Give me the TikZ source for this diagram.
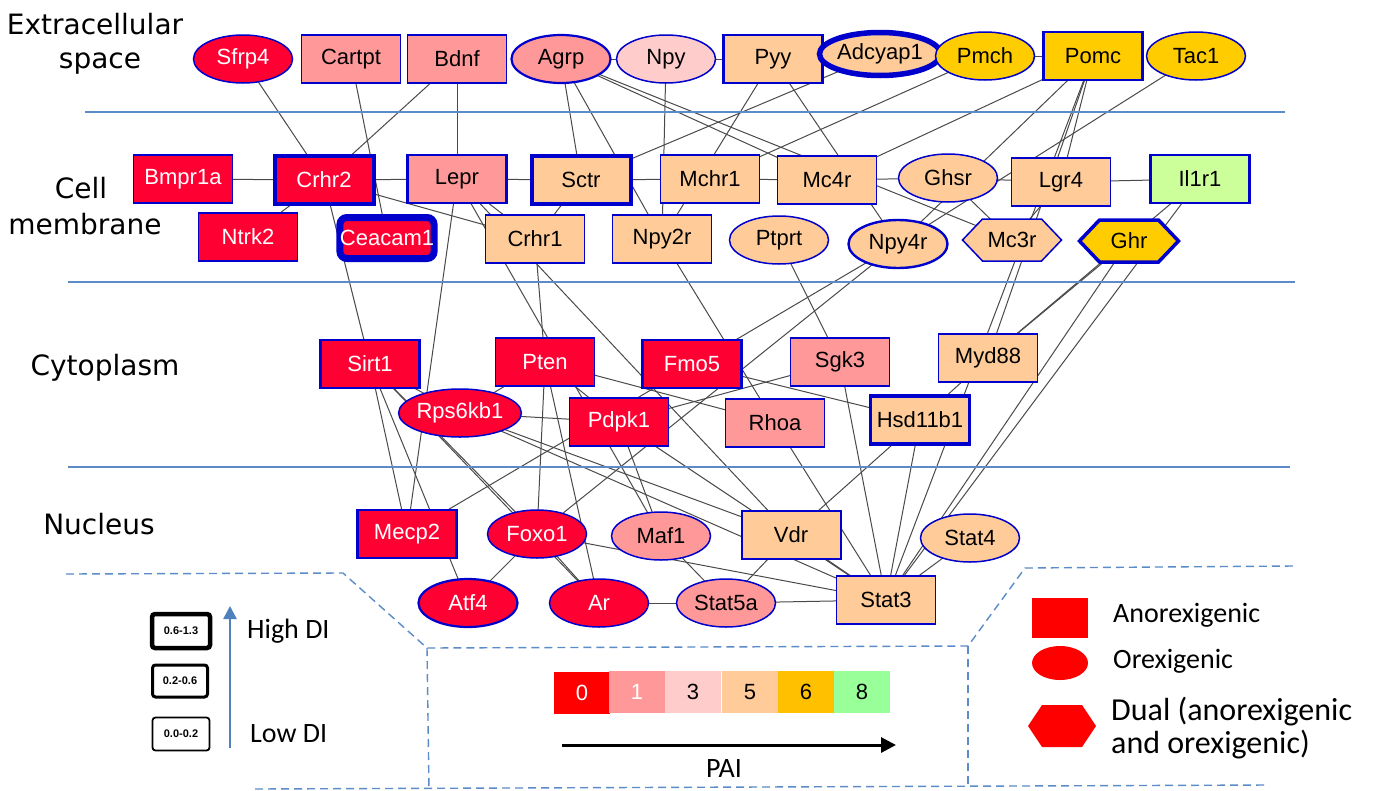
\documentclass[tikz,border=0pt]{standalone}
\usepackage{fontspec}
\setmainfont{Liberation Sans}
\newfontfamily\calfont{Carlito}
\newfontfamily\djfont{DejaVu Sans}
\usetikzlibrary{shapes.geometric,arrows.meta}
\pgfdeclarelayer{bg}
\pgfsetlayers{bg,main}
\definecolor{cR}{HTML}{FF0033}
\definecolor{cP}{HTML}{FF9999}
\definecolor{cL}{HTML}{FFCCCC}
\definecolor{cO}{HTML}{FFCC99}
\definecolor{cG}{HTML}{FFCC00}
\definecolor{cV}{HTML}{CCFF99}
\definecolor{bd}{HTML}{0000CC}
\definecolor{sepc}{HTML}{5B8BC9}
\definecolor{edgec}{HTML}{4A4A4A}
\definecolor{arrc}{HTML}{4F81BD}
\definecolor{lR}{HTML}{FF0000}
\definecolor{l6}{HTML}{FFC000}
\definecolor{l8}{HTML}{99FF99}
\newcommand\HexAt[5]{\filldraw[draw=#5, fill=#3, line width=#4] (#1-49.5,#2) -- (#1-29.5,#2-21) -- (#1+29.5,#2-21) -- (#1+49.5,#2) -- (#1+29.5,#2+21) -- (#1-29.5,#2+21) -- cycle;}
\tikzset{
  gene/.style={draw=bd, line width=1.5pt, minimum width=99pt, minimum height=48pt, inner sep=0pt, font=\fontsize{22}{24}\selectfont},
  box/.style={gene, rectangle},
  oval/.style={gene, ellipse},
  hexlabel/.style={rectangle, minimum width=99pt, minimum height=42pt, inner sep=0pt, font=\fontsize{22}{24}\selectfont},
  wt/.style={text=white},
  medb/.style={line width=2.8pt},
  thkb/.style={line width=4pt},
  edgeline/.style={draw=edgec, line width=1pt},
  sepline/.style={draw=sepc, line width=1.3pt},
  dashline/.style={draw=sepc, line width=1.4pt, dash pattern=on 8pt off 5pt},
  lbl/.style={font=\djfont\fontsize{28}{30}\selectfont, inner sep=0pt, anchor=base},
  leg/.style={font=\calfont\fontsize{28}{30}\selectfont, inner sep=0pt, anchor=west},
  legbig/.style={font=\calfont\fontsize{32}{34}\selectfont, inner sep=0pt, anchor=west},
  dibox/.style={draw=black, rounded corners=3pt, fill=white, font=\bfseries\fontsize{11}{12}\selectfont, inner sep=0pt},
  scalebox/.style={minimum width=56pt, minimum height=42pt, inner sep=0pt, font=\fontsize{22}{24}\selectfont}
}
\begin{document}
\begin{tikzpicture}[x=1pt,y=-1pt]
\useasboundingbox (0,0) rectangle (1373,790);
\begin{pgfonlayer}{bg}
\fill[white] (0,0) rectangle (1373,790);
\end{pgfonlayer}

% layer separators
\draw[sepline] (85,112) -- (1285,112);
\draw[sepline] (68,282) -- (1295,282);
\draw[sepline] (68,467) -- (1290,467);

% layer labels
\node[lbl] (lExt) at (95,34) {Extracellular};
\node[lbl] (lSpace) at (100,68) {space};
\node[lbl] (lCell) at (81,198) {Cell};
\node[lbl] (lMem) at (85,234) {membrane};
\node[lbl] (lCyto) at (105,375) {Cytoplasm};
\node[lbl] (lNuc) at (99,534) {Nucleus};

% extracellular
\node[oval,fill=cR,wt] (sfrp4) at (243,59) {Sfrp4};
\node[box,fill=cP] (cartpt) at (351,59) {Cartpt};
\node[box,fill=cP] (bdnf) at (457,59) {Bdnf};
\node[oval,fill=cP,line width=2.2pt] (agrp) at (561,59) {Agrp};
\node[oval,fill=cL] (npy) at (666,59) {Npy};
\node[box,fill=cO,medb] (pyy) at (773,59) {Pyy};
\node[oval,fill=cO,line width=5.5pt,minimum width=92pt,minimum height=43pt] (adcyap1) at (880,54) {Adcyap1};
\node[oval,fill=cG] (pmch) at (985,56) {Pmch};
\node[box,fill=cG,medb] (pomc) at (1093,56) {Pomc};
\node[oval,fill=cG] (tac1) at (1196,56) {Tac1};

% cell membrane
\node[box,fill=cR,wt] (bmpr1a) at (183,179) {Bmpr1a};
\node[box,fill=cR,wt,thkb] (crhr2) at (324,180) {Crhr2};
\node[box,fill=cP,medb] (lepr) at (457,179) {Lepr};
\node[box,fill=cO,thkb] (sctr) at (581,180) {Sctr};
\node[box,fill=cO] (mchr1) at (710,179) {Mchr1};
\node[box,fill=cO] (mc4r) at (827,180) {Mc4r};
\node[oval,fill=cO] (ghsr) at (948,178) {Ghsr};
\node[box,fill=cO] (lgr4) at (1061,182) {Lgr4};
\node[box,fill=cV,medb] (il1r1) at (1200,179) {Il1r1};
\node[box,fill=cR,wt] (ntrk2) at (248,237) {Ntrk2};
\node[box,fill=cR,wt,line width=7pt,rounded corners=7pt,minimum width=92pt,minimum height=41pt] (ceacam1) at (387,238) {Ceacam1};
\node[box,fill=cO] (crhr1) at (535,239) {Crhr1};
\node[box,fill=cO] (npy2r) at (662,239) {Npy2r};
\node[oval,fill=cO] (ptprt) at (779,240) {Ptprt};
\node[oval,fill=cO,line width=2.4pt] (npy4r) at (898,244) {Npy4r};
\HexAt{1012}{240}{cO}{1.5pt}{bd}
\node[hexlabel] (mc3r) at (1012,240) {Mc3r};
\HexAt{1129}{241}{cG}{3.5pt}{bd}
\node[hexlabel] (ghr) at (1129,241) {Ghr};

% cytoplasm
\node[box,fill=cR,wt,medb] (sirt1) at (370,364) {Sirt1};
\node[box,fill=cR,wt] (pten) at (545,362) {Pten};
\node[box,fill=cR,wt,medb] (fmo5) at (692,364) {Fmo5};
\node[box,fill=cP] (sgk3) at (840,362) {Sgk3};
\node[box,fill=cO] (myd88) at (988,358) {Myd88};
\node[oval,fill=cR,wt] (rps6kb1) at (460,413) {Rps6kb1};
\node[box,fill=cR,wt] (pdpk1) at (619,422) {Pdpk1};
\node[box,fill=cP] (rhoa) at (775,423) {Rhoa};
\node[box,fill=cO,line width=3.5pt] (hsd11b1) at (920,420) {Hsd11b1};

% nucleus
\node[box,fill=cR,wt,medb] (mecp2) at (407,534) {Mecp2};
\node[oval,fill=cR,wt] (foxo1) at (537,534) {Foxo1};
\node[oval,fill=cP] (maf1) at (661,536) {Maf1};
\node[box,fill=cO,line width=2pt] (vdr) at (791,535) {Vdr};
\node[oval,fill=cO] (stat4) at (970,538) {Stat4};
\node[oval,fill=cR,wt,line width=2.2pt] (atf4) at (468,603) {Atf4};
\node[oval,fill=cR,wt] (ar) at (599,603) {Ar};
\node[oval,fill=cP] (stat5a) at (726,603) {Stat5a};
\node[box,fill=cO] (stat3) at (886,600) {Stat3};

% interactions
\begin{pgfonlayer}{bg}
\foreach \a/\b in {agrp/npy, npy/pyy, pyy/adcyap1, adcyap1/pmch, pmch/pomc,
  sfrp4/crhr2, cartpt/ceacam1, bdnf/crhr2, bdnf/lepr, agrp/sctr, agrp/npy2r, agrp/mc4r, agrp/mc3r,
  npy/npy2r, pyy/npy2r, pyy/npy4r, adcyap1/sctr, pmch/mchr1, pomc/mc4r, pomc/npy4r, pomc/lgr4,
  pomc/myd88, pomc/stat3, tac1/npy4r,
  bmpr1a/crhr2, crhr2/lepr, lepr/sctr, sctr/mchr1, mchr1/mc4r, mc4r/ghsr, ghsr/lgr4, lgr4/il1r1,
  crhr2/ntrk2, crhr2/crhr1, lepr/crhr1, sctr/crhr1, ghsr/mc3r, lgr4/mc3r,
  crhr2/sirt1, lepr/mecp2, lepr/vdr, lepr/maf1, crhr1/pten, npy2r/rhoa, ptprt/sgk3,
  npy4r/mecp2, npy4r/foxo1, il1r1/myd88, il1r1/stat3, ghr/myd88, ghr/stat3,
  sirt1/rps6kb1, sirt1/mecp2, sirt1/atf4, sirt1/foxo1, sirt1/ar,
  rps6kb1/pdpk1, rps6kb1/vdr, rps6kb1/stat3, rps6kb1/pten,
  pten/rhoa, pten/pdpk1, pten/foxo1, pten/ar, fmo5/hsd11b1, pdpk1/sgk3, pdpk1/maf1, pdpk1/stat3,
  rhoa/stat3, sgk3/stat3, hsd11b1/vdr, hsd11b1/stat3, myd88/hsd11b1,
  foxo1/atf4, foxo1/ar, foxo1/stat3, maf1/stat5a, ar/stat5a, stat5a/stat3, stat5a/vdr, vdr/stat3, stat4/stat3}
  \draw[edgeline] (\a.center) -- (\b.center);
\end{pgfonlayer}

% legend frame (dashed)
\coordinate (d1) at (66,574);
\coordinate (d2) at (343,573);
\coordinate (d3) at (427,648);
\coordinate (d4) at (968,646);
\coordinate (d5) at (1025,568);
\coordinate (d6) at (1294,566);
\coordinate (d7) at (429,790);
\coordinate (d8) at (968,786);
\coordinate (d9) at (255,789);
\coordinate (d10) at (1268,785);
\draw[dashline] (d1) -- (d2) -- (d3) -- (d4) -- (d5) -- (d6);
\draw[dashline] (d3) -- (d7);
\draw[dashline] (d4) -- (d8);
\draw[dashline] (d9) -- (d10);

% DI legend
\node[dibox, line width=4.5pt, minimum width=58pt, minimum height=34pt] (di3) at (181,631) {0.6-1.3};
\node[dibox, line width=3pt, minimum width=55pt, minimum height=32pt] (di2) at (180,681) {0.2-0.6};
\node[dibox, line width=1.8pt, minimum width=57pt, minimum height=33pt] (di1) at (181,734) {0.0-0.2};
\coordinate (diA) at (230,748);
\coordinate (diB) at (230,606);
\draw[draw=arrc, line width=2.5pt, -{Triangle[length=13pt,width=13pt]}] (diA) -- (diB);
\node[leg] (hiDI) at (247,631) {High DI};
\node[leg] (loDI) at (250,734) {Low DI};

% PAI legend
\node[scalebox, fill=lR, text=white] (s0) at (582,693) {0};
\node[scalebox, fill=cP, text=white] (s1) at (637,692) {1};
\node[scalebox, fill=cL] (s3) at (693,692) {3};
\node[scalebox, fill=cO] (s5) at (750,692) {5};
\node[scalebox, fill=l6] (s6) at (806,692) {6};
\node[scalebox, fill=l8] (s8) at (862,692) {8};
\coordinate (paiA) at (562,745);
\coordinate (paiB) at (896,745);
\draw[line width=3pt, -{Triangle[length=15pt,width=15pt]}] (paiA) -- (paiB);
\node[leg,anchor=center] (pai) at (724,769) {PAI};

% shape legend
\fill[lR] (1032,598) rectangle (1088,638);
\fill[lR] (1060,663) ellipse [x radius=28, y radius=17];
\fill[lR] (1028,726) -- (1042,705) -- (1082,705) -- (1096,726) -- (1082,747) -- (1042,747) -- cycle;
\node[leg] (tAno) at (1113,615) {Anorexigenic};
\node[leg] (tOre) at (1113,661) {Orexigenic};
\node[legbig] (tDual1) at (1111,712) {Dual (anorexigenic};
\node[legbig] (tDual2) at (1111,745) {and orexigenic)};
\end{tikzpicture}
\end{document}
